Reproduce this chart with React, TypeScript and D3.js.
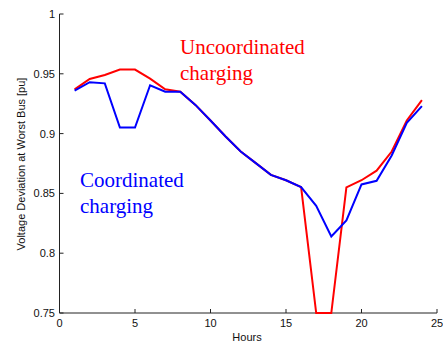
import React from "react";
import * as d3 from "d3";

const hours = [1, 2, 3, 4, 5, 6, 7, 8, 9, 10, 11, 12, 13, 14, 15, 16, 17, 18, 19, 20, 21, 22, 23, 24];
const uncoordinated = [0.937, 0.9457, 0.949, 0.9535, 0.9535, 0.946, 0.937, 0.935, 0.924, 0.911, 0.8976, 0.885, 0.8753, 0.8655, 0.861, 0.8552, 0.75, 0.75, 0.855, 0.861, 0.869, 0.885, 0.911, 0.928];
const coordinated = [0.936, 0.943, 0.942, 0.905, 0.905, 0.9404, 0.935, 0.935, 0.924, 0.911, 0.8976, 0.885, 0.8753, 0.8655, 0.861, 0.8552, 0.8396, 0.814, 0.8274, 0.8575, 0.8605, 0.8817, 0.909, 0.923];
const xTicks = [0, 5, 10, 15, 20, 25];
const yTicks = [0.75, 0.8, 0.85, 0.9, 0.95, 1];

export default function App() {
  const W = 443, H = 343;
  const x = d3.scaleLinear().domain([0, 25]).range([59.5, 437]);
  const y = d3.scaleLinear().domain([0.75, 1]).range([313, 14]);
  const line = d3.line<number>().x((_, i) => x(hours[i])).y((d) => y(d));
  const sans = "'Liberation Sans', Arial, Helvetica, sans-serif";
  const serifStyle = { fontFamily: "'Liberation Serif', monospace" };
  const axisColor = "#222";
  return (
    <svg width={W} height={H} style={{ position: "absolute", left: 0, top: 0, background: "#fff" }}>
      <rect x={0} y={0} width={W} height={H} fill="#fff" />
      <line x1={x(0)} x2={x(0)} y1={y(1)} y2={y(0.75)} stroke={axisColor} strokeWidth={1} />
      <line x1={x(0)} x2={x(25)} y1={y(0.75)} y2={y(0.75)} stroke={axisColor} strokeWidth={1} />
      {xTicks.map((t) => (
        <g key={"x" + t}>
          <line x1={x(t)} x2={x(t)} y1={y(0.75)} y2={y(0.75) - 4} stroke={axisColor} />
          <text x={x(t)} y={327} fontSize={11} fontFamily={sans} textAnchor="middle" fill="#111">{t}</text>
        </g>
      ))}
      {yTicks.map((t) => (
        <g key={"y" + t}>
          <line x1={x(0)} x2={x(0) + 4} y1={y(t)} y2={y(t)} stroke={axisColor} />
          <text x={55} y={y(t) + 4} fontSize={11} fontFamily={sans} textAnchor="end" fill="#111">{String(t)}</text>
        </g>
      ))}
      <text x={247} y={341} fontSize={11} fontFamily={sans} textAnchor="middle" fill="#111">Hours</text>
      <text transform={`translate(25,164) rotate(-90)`} fontSize={11} fontFamily={sans} textAnchor="middle" fill="#111">Voltage Deviation at Worst Bus [pu]</text>
      <path d={line(uncoordinated) || ""} fill="none" stroke="#ff0000" strokeWidth={2} strokeLinejoin="miter" />
      <path d={line(coordinated) || ""} fill="none" stroke="#0000ff" strokeWidth={2} strokeLinejoin="miter" />
      <g style={serifStyle} fontSize={21}>
        <text x={180} y={54} fill="#ff0000">Uncoordinated</text>
        <text x={180} y={80} fill="#ff0000">charging</text>
        <text x={80} y={187} fill="#0000ff">Coordinated</text>
        <text x={80} y={213} fill="#0000ff">charging</text>
      </g>
    </svg>
  );
}
